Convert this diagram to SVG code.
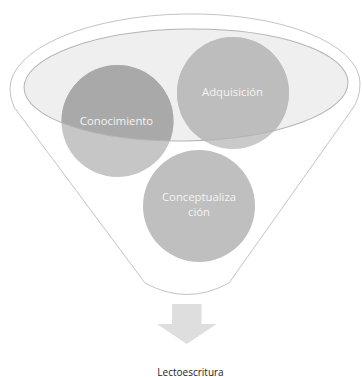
<svg xmlns="http://www.w3.org/2000/svg" width="362" height="377" viewBox="0 0 362 377">
  <style>
    .lbl { font-family: "Open Sans", "Noto Sans", sans-serif; font-size: 11.3px; fill: #f4f4f4; text-anchor: middle; }
    .cap { font-family: "Open Sans", "Noto Sans", sans-serif; font-size: 10px; fill: #222222; text-anchor: middle; }
  </style>
  <defs>
    <clipPath id="inner">
      <ellipse cx="186" cy="85" rx="162" ry="56" transform="rotate(-1 186 85)"/>
    </clipPath>
  </defs>
  <rect width="362" height="377" fill="#ffffff"/>
  <g id="funnel">
    <path d="M 10 89 A 175 72 -1 0 1 360 83 Q 360 98 353 108 L 229 283 Q 187 306 145 283 L 14 107 Q 10 98 10 89 Z" fill="#ffffff" stroke="#c4c4c4" stroke-width="1"/>
    <ellipse cx="186" cy="85" rx="162" ry="56" transform="rotate(-1 186 85)" fill="#efefef"/>
  </g>
  <g id="conocimiento">
    <circle cx="117.5" cy="121" r="56" fill="#c6c6c6"/>
    <circle cx="117.5" cy="121" r="56" fill="#a9a9a9" clip-path="url(#inner)"/>
  </g>
  <g id="adquisicion">
    <circle cx="233" cy="93" r="56" fill="#c9c9c9"/>
    <circle cx="233" cy="93" r="56" fill="#bdbdbd" clip-path="url(#inner)"/>
  </g>
  <g id="conceptualizacion">
    <circle cx="199" cy="206" r="56" fill="#bfbfbf"/>
  </g>
  <ellipse cx="186" cy="85" rx="162" ry="56" transform="rotate(-1 186 85)" fill="none" stroke="#b4b4b4" stroke-width="1"/>
  <g id="labels">
    <text class="lbl" x="116.5" y="124.5">Conocimiento</text>
    <text class="lbl" x="232.5" y="96">Adquisición</text>
    <text class="lbl" x="199" y="201">Conceptualiza</text>
    <text class="lbl" x="199" y="216">ción</text>
  </g>
  <g id="arrow">
    <path d="M 172 304 L 201.5 304 L 201.5 324 L 216.5 324 L 186.75 344 L 157 324 L 172 324 Z" fill="#dedede"/>
  </g>
  <g id="lectoescritura">
    <text class="cap" x="190.5" y="375.5">Lectoescritura</text>
  </g>
</svg>
